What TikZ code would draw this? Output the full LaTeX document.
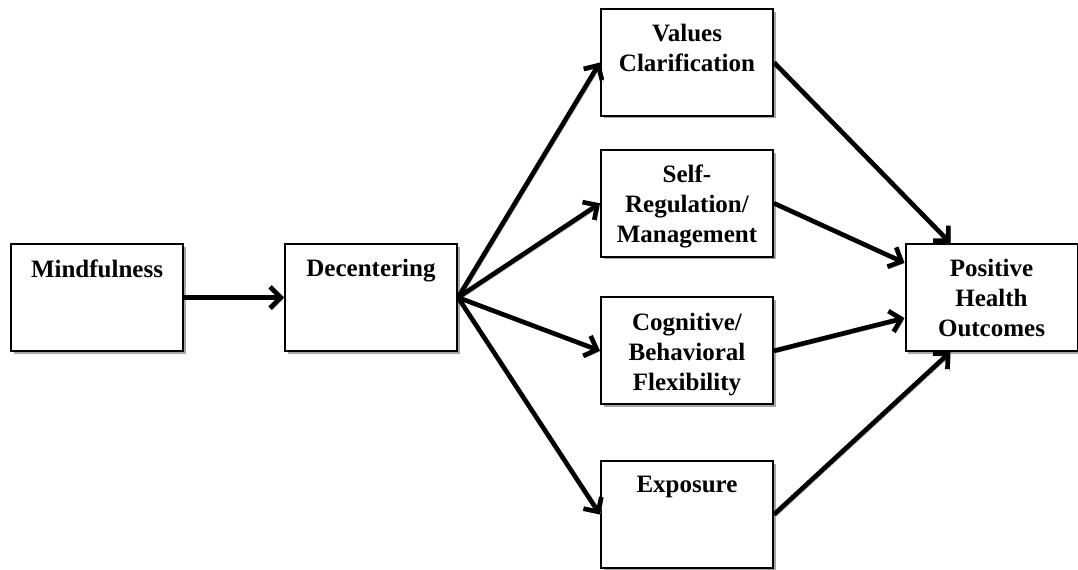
\documentclass[tikz,border=0pt]{standalone}
\usepackage{fontspec}
\setmainfont{Liberation Serif}
\usepackage{xcolor}
\colorlet{colorShadow}{black!35}
\colorlet{colorLine}{black}
\usepackage{tikz}
\usetikzlibrary{arrows.meta, positioning, shadows}
\tikzset{box/.style={draw=colorLine, line width=1.5pt, fill=white, minimum width=129pt, minimum height=80pt, inner sep=0pt,
    drop shadow={shadow xshift=2pt, shadow yshift=-2pt, fill=colorShadow, opacity=1}}}
\tikzset{title/.style={anchor=north, inner sep=0pt, align=center, font=\fontsize{18.75}{22.5}\selectfont\bfseries}}
\tikzset{arr/.style={draw=colorLine, line width=3.5pt, -{Straight Barb[length=8pt, width=16pt]},
    preaction={draw=colorShadow, transform canvas={xshift=1.5pt, yshift=-1.5pt}}}}

\begin{document}
\begin{tikzpicture}[x=0.75pt, y=-0.75pt]
\useasboundingbox (0,0) rectangle (1078,570);
\node[box] (n0) at (97,297.5) {};
\node[box, right=75pt of n0] (n1) {};
\node[box] (n2) at (687,62.5) {};
\node[box] (n3) at (687,203.3) {};
\node[box] (n4) at (687,350.8) {};
\node[box] (n5) at (687,514.5) {};
\node[box] (n6) at (991.5,297.5) {};
\node[title] (t0) at ([yshift=-12pt]n0.north) {Mindfulness};
\node[title] (t1) at ([yshift=-12pt]n1.north) {Decentering};
\node[title] (t2) at ([yshift=-12pt]n2.north) {Values\\Clarification};
\node[title] (t3) at ([yshift=-12pt]n3.north) {Self-\\Regulation/\\Management};
\node[title] (t4) at ([yshift=-12pt]n4.north) {Cognitive/\\Behavioral\\Flexibility};
\node[title] (t5) at ([yshift=-12pt]n5.north) {Exposure};
\node[title] (t6) at ([yshift=-12pt]n6.north) {Positive\\Health\\Outcomes};
\draw[arr] (n0) -- (n1);
\draw[arr] (n1.east) -- (n2.west);
\draw[arr] (n1.east) -- (n3.west);
\draw[arr] (n1.east) -- (n4.west);
\draw[arr] (n1.east) -- (n5.west);
\draw[arr] (n2.east) -- ([xshift=34.5pt]n6.north west);
\draw[arr] (n3.east) -- ([yshift=26pt]n6.west);
\draw[arr] (n4.east) -- ([yshift=-15.4pt]n6.west);
\draw[arr] (n5.east) -- ([xshift=34.5pt]n6.south west);
\end{tikzpicture}
\end{document}
